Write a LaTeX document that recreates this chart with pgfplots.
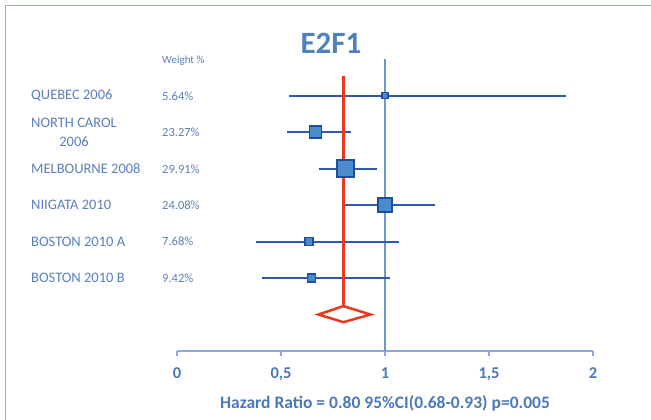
\documentclass[border=0pt]{standalone}
\usepackage{pgfplots}
\pgfplotsset{compat=1.18}
\usepackage{fontspec}
\setmainfont{Carlito}
\definecolor{labelblue}{HTML}{5B7EBC}
\definecolor{tickblue}{HTML}{4A78BB}
\definecolor{titleblue}{HTML}{4F81BD}
\definecolor{ciblue}{HTML}{2F5AA5}
\definecolor{sqfill}{HTML}{4A8CCB}
\definecolor{sqdraw}{HTML}{1F4E9E}
\definecolor{hrred}{HTML}{E8381E}
\definecolor{refblue}{HTML}{7096D0}
\definecolor{axisblue}{HTML}{8DA9D9}
\definecolor{frameblue}{HTML}{9AAED8}
\begin{document}
\begin{tikzpicture}[x=1pt,y=1pt]
\useasboundingbox (0,0) rectangle (651,-420);
\draw[frameblue, line width=1.5pt] (651,-5.5) -- (5.5,-5.5) -- (5.5,-420);
\begin{axis}[
  at={(177pt,-351pt)}, anchor=south west,
  scale only axis, width=416pt, height=292pt,
  xmin=0, xmax=2, ymin=-1, ymax=7,
  axis x line=bottom, axis y line=none,
  axis line style={axisblue, line width=1.8pt, -},
  xtick={0,0.5,1,1.5,2},
  xticklabels={0,{0,5},1,{1,5},2},
  tick style={axisblue, line width=1.8pt},
  major tick length=5pt, tick align=outside,
  xticklabel style={font=\bfseries\fontsize{16.5}{18}\selectfont, text=tickblue, yshift=-8pt},
  /pgf/number format/assume math mode=true,
  clip=false,
]
% reference line at HR = 1
\addplot[refblue, line width=1.8pt] coordinates {(1,-1) (1,7)};
% confidence intervals
\addplot[ciblue, line width=2pt] coordinates {(0.537,6) (1.87,6)};
\addplot[ciblue, line width=2pt] coordinates {(0.530,5) (0.836,5)};
\addplot[ciblue, line width=2pt] coordinates {(0.684,4) (0.962,4)};
\addplot[ciblue, line width=2pt] coordinates {(0.796,3) (1.242,3)};
\addplot[ciblue, line width=2pt] coordinates {(0.379,2) (1.068,2)};
\addplot[ciblue, line width=2pt] coordinates {(0.409,1) (1.025,1)};
% pooled estimate line
\addplot[hrred, line width=3.5pt] coordinates {(0.80,0.23) (0.80,6.53)};
% point estimates
\addplot[only marks, mark=square*, mark size=3pt, mark options={fill=sqfill, draw=sqdraw, line width=1.2pt}] coordinates {(1.0,6)};
\addplot[only marks, mark=square*, mark size=6pt, mark options={fill=sqfill, draw=sqdraw, line width=1.2pt}] coordinates {(0.665,5)};
\addplot[only marks, mark=square*, mark size=8.5pt, mark options={fill=sqfill, draw=sqdraw, line width=1.2pt}] coordinates {(0.81,4)};
\addplot[only marks, mark=square*, mark size=7pt, mark options={fill=sqfill, draw=sqdraw, line width=1.2pt}] coordinates {(1.0,3)};
\addplot[only marks, mark=square*, mark size=4pt, mark options={fill=sqfill, draw=sqdraw, line width=1.2pt}] coordinates {(0.635,2)};
\addplot[only marks, mark=square*, mark size=4pt, mark options={fill=sqfill, draw=sqdraw, line width=1.2pt}] coordinates {(0.646,1)};
% pooled diamond
\addplot[hrred, line width=2.5pt, fill=white, line join=miter] coordinates {(0.68,0) (0.80,0.23) (0.93,0) (0.80,-0.21)} -- cycle;
\end{axis}
% texts
\node[font=\bfseries\fontsize{31}{33}\selectfont, text=titleblue] at (331,-43) {E2F1};
\node[anchor=west, font=\fontsize{11}{13}\selectfont, text=labelblue, inner sep=0pt] at (162,-61) {Weight \%};
\begin{scope}[every node/.style={anchor=west, inner sep=0pt, text=labelblue, font=\fontsize{14.5}{18.7}\selectfont}]
\node at (31,-96) {QUEBEC 2006};
\node[align=center] at (31,-132.3) {NORTH CAROL\\2006};
\node at (31,-169) {MELBOURNE 2008};
\node at (31,-205.3) {NIIGATA 2010};
\node at (31,-241.7) {BOSTON 2010 A};
\node at (31,-278.3) {BOSTON 2010 B};
\end{scope}
\begin{scope}[every node/.style={anchor=west, inner sep=0pt, text=labelblue, font=\fontsize{12.5}{15}\selectfont}]
\node at (162,-96) {5.64\%};
\node at (162,-132.3) {23.27\%};
\node at (162,-169) {29.91\%};
\node at (162,-205.3) {24.08\%};
\node at (162,-241.7) {7.68\%};
\node at (162,-278.3) {9.42\%};
\end{scope}
\node[font=\bfseries\fontsize{17.5}{20}\selectfont, text=tickblue] at (385,-403) {Hazard Ratio = 0.80 95\%CI(0.68-0.93) p=0.005};
\end{tikzpicture}
\end{document}
